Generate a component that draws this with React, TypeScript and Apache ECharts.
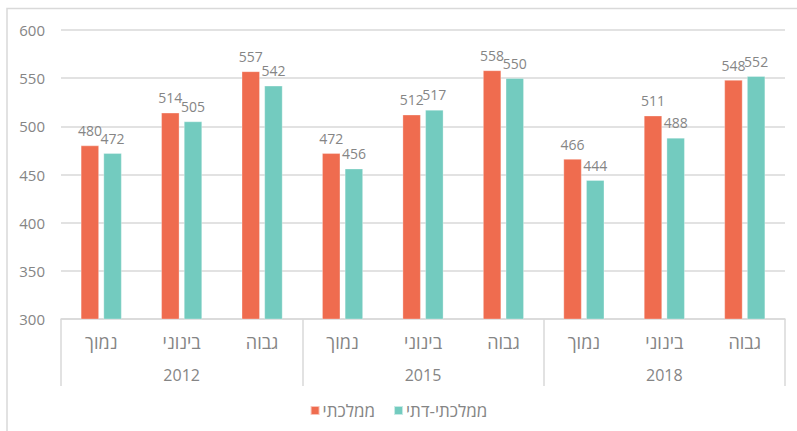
import React, { useEffect, useRef } from "react";
import * as echarts from "echarts";

const levels = ["נמוך", "בינוני", "גבוה", "נמוך", "בינוני", "גבוה", "נמוך", "בינוני", "גבוה"];
const years = ["2012", "2015", "2018"];
const seriesNames = ["ממלכתי", "ממלכתי-דתי"];
const stateValues = [480, 514, 557, 472, 512, 558, 466, 511, 548];
const religiousValues = [472, 505, 542, 456, 517, 550, 444, 488, 552];
const yTicks = { min: 300, max: 600, interval: 50 };

const FONT = "'Open Sans', 'DejaVu Sans', sans-serif";
const GRAY = "#858585";
const LINE = "#d9d9d9";
const COLORS = ["#EF6C4F", "#73CBBF"];

export default function App() {
  const ref = useRef<HTMLDivElement>(null);
  useEffect(() => {
    if (!ref.current) return;
    const chart = echarts.init(ref.current, undefined, { renderer: "svg" });
    const makeSeries = (name: string, data: number[], color: string) => ({
      name,
      type: "bar",
      data,
      barWidth: 18,
      barGap: "26%",
      itemStyle: { color, borderColor: "rgba(255,255,255,0.6)", borderWidth: 0.5 },
      label: {
        show: true,
        position: "top",
        distance: 8,
        color: GRAY,
        fontSize: 14,
        fontFamily: FONT,
      },
    });
    chart.setOption({
      animation: false,
      textStyle: { fontFamily: FONT },
      grid: { left: 61, right: 12, top: 30, bottom: 112, containLabel: false },
      legend: {
        bottom: 7,
        left: "center",
        itemWidth: 9,
        itemHeight: 9,
        itemGap: 18,
        icon: "rect",
        textStyle: { color: GRAY, fontSize: 17, fontFamily: FONT, padding: [0, 0, 0, -2] },
        data: seriesNames,
      },
      xAxis: [
        {
          type: "category",
          data: levels,
          position: "bottom",
          axisLine: { show: true, lineStyle: { color: LINE, width: 1.5 } },
          axisTick: { show: false },
          axisLabel: { color: GRAY, fontSize: 18, fontFamily: FONT, margin: 14 },
        },
        {
          type: "category",
          data: years,
          position: "bottom",
          axisLine: { show: false },
          axisTick: { show: true, length: 67, lineStyle: { color: LINE, width: 1.5 } },
          axisLabel: { color: GRAY, fontSize: 16, fontFamily: FONT, margin: 48 },
        },
      ],
      yAxis: {
        type: "value",
        min: yTicks.min,
        max: yTicks.max,
        interval: yTicks.interval,
        axisLine: { show: false },
        axisTick: { show: false },
        splitLine: { lineStyle: { color: LINE, width: 1.5 } },
        axisLabel: { color: GRAY, fontSize: 15, fontFamily: FONT, margin: 16 },
      },
      graphic: [
        {
          type: "rect",
          shape: { x: 7, y: 8.5, width: 820, height: 500 },
          style: { fill: "none", stroke: LINE, lineWidth: 1.5 },
          silent: true,
        },
      ],
      series: [
        makeSeries(seriesNames[0], stateValues, COLORS[0]),
        makeSeries(seriesNames[1], religiousValues, COLORS[1]),
      ],
    });
    return () => chart.dispose();
  }, []);
  return <div ref={ref} style={{ width: 797, height: 431, position: "absolute", left: 0, top: 0 }} />;
}
